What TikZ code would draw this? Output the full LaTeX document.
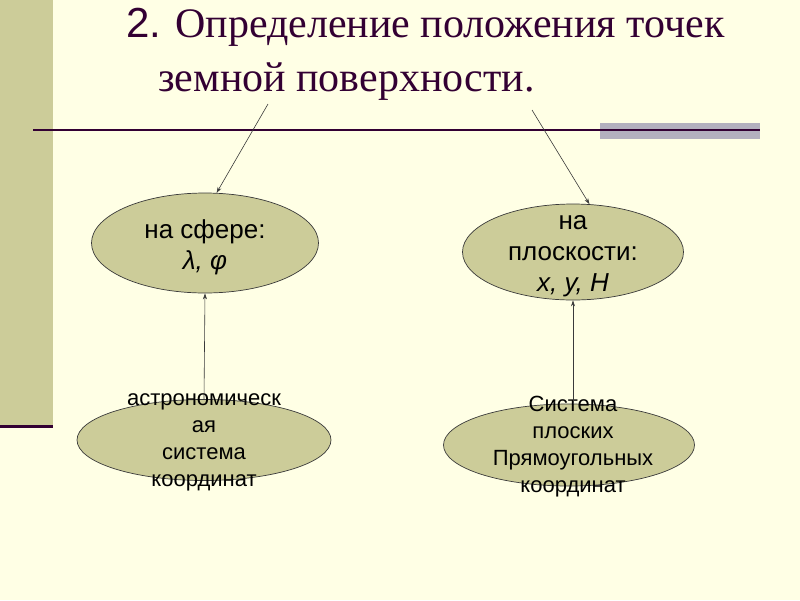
\documentclass[tikz,border=0pt]{standalone}
\usepackage{fontspec}
\setmainfont{Liberation Serif}
\newfontfamily\arial{Liberation Sans}
\usepackage{tikz}
\usetikzlibrary{arrows.meta,positioning,shapes.geometric}
\definecolor{paper}{HTML}{FFFFE5}
\definecolor{khaki}{HTML}{CCCC99}
\definecolor{plum}{HTML}{330033}
\definecolor{barc}{HTML}{B3B0BE}
\definecolor{edge}{HTML}{3A3A3A}
\tikzset{
  oval/.style={ellipse,draw=edge,fill=khaki,line width=0.7pt,inner sep=0pt},
  otxt/.style={align=center,text=black,inner sep=0pt,
    font=\arial\fontsize{26}{31}\selectfont},
  otxs/.style={otxt,font=\arial\fontsize{22}{27}\selectfont},
  ttl/.style={anchor=base west,inner sep=0pt,text=plum,
    font=\fontsize{42}{48}\selectfont},
  link/.style={-{Stealth[length=6pt,width=4pt]},line width=0.6pt,color=edge}
}
\begin{document}
\begin{tikzpicture}[x=1pt,y=-1pt]
  \useasboundingbox (0,0) rectangle (800,600);
  % page
  \fill[paper] (0,0) rectangle (800,600);
  \fill[khaki] (0,0) rectangle (53,425);
  \fill[plum] (0,425) rectangle (53,428);
  \fill[barc] (600,123) rectangle (760,139);
  \draw[plum,line width=2pt] (33,130) -- (760,130);
  % title
  \node[ttl] (ttl1) at (126,37) {{\arial 2.} Определение положения точек};
  \node[ttl] (ttl2) at (158,91) {земной поверхности.};
  \coordinate (s1) at (268,104);
  \coordinate (s2) at (532,110);
  % ovals
  \node[oval,minimum width=227,minimum height=100] (sphere) at (205,243) {};
  \node[oval,minimum width=221,minimum height=96] (plane) at (573,252) {};
  \node[oval,minimum width=254,minimum height=81] (astro) at (204,440) {};
  \node[oval,minimum width=251,minimum height=82] (rect) at (569,445) {};
  \node[otxt] (sphereT) at ([yshift=-4]sphere.center) {на сфере:\\{\itshape λ, φ}};
  \node[otxt] (planeT) at ([yshift=-4]plane.center) {на\\плоскости:\\{\itshape x, y, H}};
  \node[otxs] (astroT) at ([yshift=-2]astro.center) {астрономическ\\ая\\система\\координат};
  \node[otxs] (rectT) at ([xshift=4,yshift=-2]rect.center) {Система\\плоских\\Прямоугольных\\координат};
  % links
  \draw[link] (s1) -- (sphere.77);
  \draw[link] (s2) -- (plane.71);
  \draw[link] (astro.north) -- (sphere.south);
  \draw[link] (rect.north -| plane.south) -- (plane.south);
\end{tikzpicture}
\end{document}
